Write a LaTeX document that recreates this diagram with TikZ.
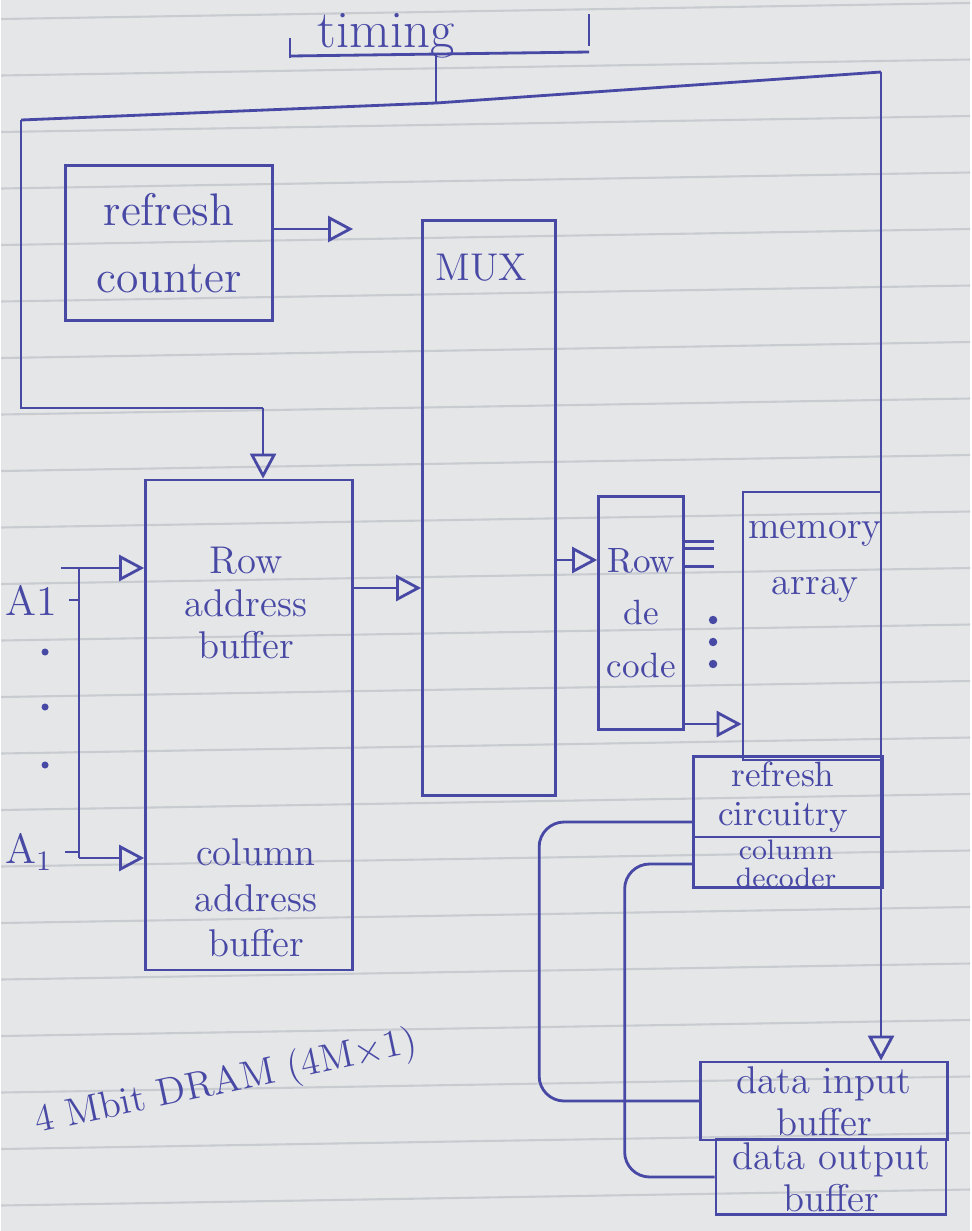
\documentclass[tikz,border=0pt]{standalone}
\usepackage{xcolor}
\usepackage{tikz}
\usetikzlibrary{arrows.meta, positioning, calc}
\definecolor{ink}{RGB}{72,72,165}
\definecolor{paper}{RGB}{228,230,232}
\definecolor{ruling}{RGB}{200,203,208}
\tikzset{
  box/.style={rectangle, draw=ink, line width=0.8pt, inner sep=0pt},
  wire/.style={draw=ink, line width=0.8pt},
  tri/.style={-{Triangle[open, length=2.5mm, width=2.6mm]}, draw=ink, line width=0.8pt},
  hand/.style={text=ink, align=center, font=\fontsize{11}{13}\selectfont}
}

\begin{document}
\begin{tikzpicture}[x=0.1mm, y=-0.1mm]
  % Paper
  \fill[paper] (0,0) rectangle (969,1231);
  \foreach \k in {0,...,21}
    \draw[ruling, line width=0.6pt] (0,{19+56.5*\k}) -- (969,{3+56.5*\k});
  \useasboundingbox (0,0) rectangle (969,1231);

  % Timing
  \node[hand, font=\fontsize{15}{16}\selectfont] (timing) at (385,36) {timing};
  \draw[wire] (290,56) -- (588,52);
  \draw[wire] (289,38) -- (289,58);
  \draw[wire] (588,14) -- (588,46);

  % Refresh counter
  \node[box, minimum width=2.07cm, minimum height=1.55cm, hand,
        font=\fontsize{13}{19}\selectfont] (counter) at (168,243) {refresh\\counter};

  % MUX
  \node[box, minimum width=1.33cm, minimum height=5.75cm] (mux) at (488,508) {};
  \node[hand, font=\fontsize{11}{13}\selectfont] (muxlbl) at (480,268) {MUX};

  % Address buffers
  \node[box, minimum width=2.07cm, minimum height=4.9cm] (addrbuf) at (248,725) {};
  \node[hand, font=\fontsize{11}{12}\selectfont] (rowbuf) at (245,603) {Row\\address\\buffer};
  \node[hand] (colbuf) at (255,898) {column\\address\\buffer};

  % Row decoder and memory array
  \node[box, minimum width=0.85cm, minimum height=2.33cm, hand,
        font=\fontsize{10}{15}\selectfont] (rowdec) at (640,613) {Row\\de\\code};
  \node[box, minimum width=1.38cm, minimum height=2.68cm] (memarr) at (811,626) {};
  \node[hand, font=\fontsize{11}{16}\selectfont] (memlbl) at (814,562) {memory\\array};

  % Refresh circuitry / column decoder
  \node[box, minimum width=1.89cm, minimum height=1.31cm] (refresh) at (787,822) {};
  \node[hand, font=\fontsize{10}{11}\selectfont] (refrlbl) at (782,797) {refresh\\circuitry};
  \node[hand, font=\fontsize{8}{8}\selectfont] (coldec) at (785,864) {column\\decoder};
  \draw[wire] ([yshift=-0.15cm]refresh.west) -- ([yshift=-0.15cm]refresh.east);

  % Data buffers
  \node[box, minimum width=2.47cm, minimum height=0.78cm, hand,
        font=\fontsize{11}{12}\selectfont] (datain) at (823,1101) {data input\\buffer};
  \node[box, minimum width=2.30cm, minimum height=0.75cm, hand,
        font=\fontsize{11}{12}\selectfont] (dataout) at (830,1177) {data output\\buffer};

  % Title
  \node[hand, rotate=12, font=\fontsize{11}{12}\selectfont] (title) at (225,1083)
    {4 Mbit DRAM (4M$\times$1)};

  % Control lines
  \coordinate (tbar) at (435,54);
  \coordinate (busL) at (20,120);
  \coordinate (busM) at (435,103);
  \coordinate (busR) at (880,72);
  \coordinate (drop) at (262,408);
  \draw[wire] (tbar) -- (busM);
  \draw[wire] (busL) -- (busM) -- (busR);
  \draw[wire] (busL) |- (drop);
  \draw[tri] (drop) -- (drop |- addrbuf.north);
  \draw[tri] (busR) -- (busR |- datain.north);

  % Address inputs
  \coordinate (atop) at (60,568);
  \coordinate (abot) at (78,858);
  \node[hand, font=\fontsize{12}{13}\selectfont] (ahi) at (30,600) {A1};
  \node[hand, font=\fontsize{12}{13}\selectfont] (alo) at (28,852) {A$_1$};
  \draw[wire] (atop -| abot) -- (abot);
  \draw[wire] (ahi.east) -- (ahi.east -| abot);
  \draw[wire] (alo.east) -- (alo.east -| abot);
  \foreach \y in {652,707,765}
    \fill[ink] (44,\y) circle[radius=1pt];
  \draw[tri] (atop) -- (addrbuf.west |- atop);
  \draw[tri] (abot) -- (addrbuf.west |- abot);

  % Data path
  \coordinate (yctr) at (0,229);
  \coordinate (mxin) at (352,229);
  \coordinate (yrow) at (0,588);
  \coordinate (ydec) at (0,560);
  \coordinate (ylow) at (0,724);
  \draw[tri] (counter.east |- yctr) -- (mxin);
  \draw[tri] (addrbuf.east |- yrow) -- (mux.west |- yrow);
  \draw[tri] (mux.east |- ydec) -- (rowdec.west |- ydec);
  \foreach \y in {0.46,0.53,0.71}
    \draw[wire] ([yshift=-\y cm]rowdec.north east) -- ++(0.29cm,0);
  \foreach \y in {620,642,664}
    \fill[ink] (712,\y) circle[radius=1.2pt];
  \draw[tri] (rowdec.east |- ylow) -- (memarr.west |- ylow);

  % Feedback to data buffers
  \draw[wire, rounded corners=0.25cm] (refresh.west)
    -| ($(datain.west)+(-1.6cm,0)$) -- (datain.west);
  \draw[wire, rounded corners=0.25cm] (refresh.west |- coldec)
    -| ($(dataout.west)+(-0.9cm,0)$) -- (dataout.west);
\end{tikzpicture}
\end{document}
